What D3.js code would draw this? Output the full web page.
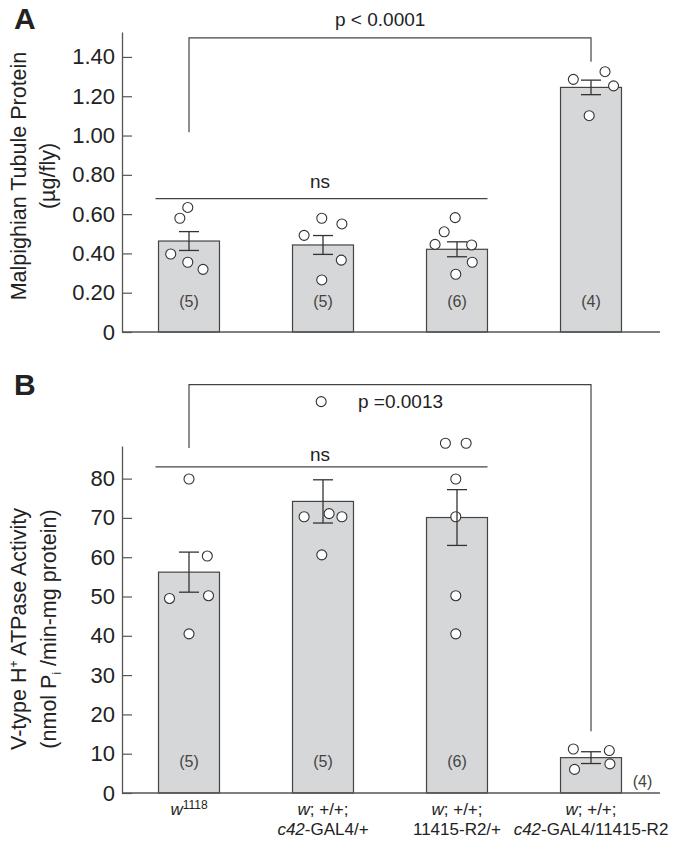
<!DOCTYPE html>
<html>
<head>
<meta charset="utf-8">
<script src="https://cdn.jsdelivr.net/npm/d3@7"></script>
<style>
  html, body { margin: 0; padding: 0; background: #fff; }
  svg { display: block; font-family: "Liberation Sans", Arial, Helvetica, sans-serif; }
</style>
</head>
<body>
<svg id="chart" width="680" height="850"></svg>
<script>
// ---------------- DATA ----------------
const groups = ["w1118", "c42/+", "R2/+", "c42/R2"];
const nCounts = [5, 5, 6, 4];

// Panel A: Malpighian tubule protein (µg/fly)
const proteinMean = [0.463, 0.443, 0.421, 1.245];
const proteinSem = [0.048, 0.048, 0.038, 0.037];
const proteinPoints = [
  [0.634, 0.579, 0.397, 0.355, 0.319],
  [0.492, 0.579, 0.550, 0.366, 0.265],
  [0.582, 0.510, 0.446, 0.443, 0.355, 0.294],
  [1.286, 1.325, 1.253, 1.101]
];
const proteinJitter = [
  [-0.02, -0.15, -0.30, -0.02, 0.23],
  [-0.31, -0.02, 0.31, 0.30, -0.02],
  [-0.03, -0.21, -0.36, 0.24, 0.25, -0.02],
  [-0.29, 0.23, 0.37, -0.03]
];
const proteinTicks = [0, 0.2, 0.4, 0.6, 0.8, 1.0, 1.2, 1.4];

// Panel B: V-type H+ ATPase activity
const atpaseMean = [56.2, 74.2, 70.1, 9.0];
const atpaseSem = [5.1, 5.5, 7.1, 1.5];
const atpasePoints = [
  [79.9, 60.3, 49.5, 50.2, 40.5],
  [99.6, 71.1, 70.3, 70.3, 60.6],
  [89.0, 89.0, 79.9, 70.3, 50.2, 40.5],
  [11.2, 10.8, 7.4, 6.0]
];
const atpaseJitter = [
  [0.00, 0.30, -0.32, 0.32, 0.00],
  [-0.03, 0.10, -0.31, 0.31, -0.02],
  [-0.19, 0.15, -0.02, -0.02, -0.02, -0.02],
  [-0.29, 0.30, 0.31, -0.27]
];
const atpaseTicks = [0, 10, 20, 30, 40, 50, 60, 70, 80];

// Annotation values
const protPText = "p < 0.0001";
const atpPText = "p =0.0013";

// ---------------- LAYOUT ----------------
const svg = d3.select("#chart");
const FONT_TICK = 22;
const axisColor = "#555";
const barFill = "#d6d7d9";
const barStroke = "#444";

const x = d3.scaleBand().domain(groups).range([122, 658]).paddingInner(0.545).paddingOuter(0.2725);
const bw = x.bandwidth();
const cx = g => x(g) + bw / 2;

const yA = d3.scaleLinear().domain([0, 1.527]).range([332, 32]);
const yB = d3.scaleLinear().domain([0, 88.3]).range([793, 446]);

function drawPanel(cfg) {
  const { y, ticks, fmt, mean, sem, points, jitter, nLabelY, nLabelSpecial } = cfg;
  const g = svg.append("g");

  // bars
  g.selectAll("rect.bar").data(groups).join("rect")
    .attr("x", d => x(d)).attr("width", bw)
    .attr("y", (d, i) => y(mean[i]))
    .attr("height", (d, i) => y(0) - y(mean[i]))
    .attr("fill", barFill).attr("stroke", barStroke).attr("stroke-width", 1.2);

  // points
  groups.forEach((grp, i) => {
    g.selectAll(null).data(points[i]).join("circle")
      .attr("cx", (v, j) => cx(grp) + jitter[i][j] * bw)
      .attr("cy", v => y(v))
      .attr("r", 5)
      .attr("fill", "#fff").attr("stroke", "#333").attr("stroke-width", 1.1);
  });

  // error bars
  groups.forEach((grp, i) => {
    const c = cx(grp), hi = y(mean[i] + sem[i]), lo = y(mean[i] - sem[i]);
    const e = g.append("g").attr("stroke", "#333").attr("stroke-width", 1.3);
    e.append("line").attr("x1", c).attr("x2", c).attr("y1", hi).attr("y2", lo);
    e.append("line").attr("x1", c - 10).attr("x2", c + 10).attr("y1", hi).attr("y2", hi);
    e.append("line").attr("x1", c - 10).attr("x2", c + 10).attr("y1", lo).attr("y2", lo);
  });

  // n labels
  groups.forEach((grp, i) => {
    const special = nLabelSpecial && i === 3;
    g.append("text")
      .attr("x", special ? x(grp) + bw + 21 : cx(grp))
      .attr("y", special ? nLabelSpecial : nLabelY)
      .attr("text-anchor", "middle")
      .attr("font-size", 16).attr("fill", "#444")
      .text(`(${nCounts[i]})`);
  });

  // y axis
  const ax = g.append("g").attr("transform", "translate(122,0)")
    .call(d3.axisLeft(y).tickValues(ticks).tickFormat(fmt)
      .tickSize(-10).tickSizeOuter(0).tickPadding(7));
  ax.select(".domain").attr("stroke", axisColor).attr("stroke-width", 1.3);
  ax.selectAll(".tick line").attr("stroke", axisColor).attr("stroke-width", 1.2);
  ax.selectAll(".tick text").attr("font-size", FONT_TICK).attr("fill", "#222")
    .attr("font-family", "'Liberation Sans', Arial, sans-serif");

  // x baseline
  g.append("line").attr("x1", 122).attr("x2", 660).attr("y1", y(0)).attr("y2", y(0))
    .attr("stroke", axisColor).attr("stroke-width", 1.3);
  return g;
}

function bracket(y, topV, leftV, rightV, i0, i1) {
  const x0 = cx(groups[i0]), x1 = cx(groups[i1]);
  svg.append("path")
    .attr("d", `M${x0},${y(leftV)}V${y(topV)}H${x1}V${y(rightV)}`)
    .attr("fill", "none").attr("stroke", "#444").attr("stroke-width", 1.2);
}
function nsLine(y, v, i0, i1, textY) {
  const x0 = x(groups[i0]) - 3, x1 = x(groups[i1]) + bw;
  svg.append("line").attr("x1", x0).attr("x2", x1).attr("y1", y(v)).attr("y2", y(v))
    .attr("stroke", "#444").attr("stroke-width", 1.2);
  svg.append("text").attr("x", cx(groups[1]) - 3).attr("y", textY)
    .attr("text-anchor", "middle").attr("font-size", 19).attr("fill", "#222").text("ns");
}

// ---------------- PANEL A ----------------
drawPanel({
  y: yA, ticks: proteinTicks, fmt: d => d === 0 ? "0" : d3.format(".2f")(d),
  mean: proteinMean, sem: proteinSem, points: proteinPoints, jitter: proteinJitter,
  nLabelY: 307
});
bracket(yA, 1.497, 1.017, 1.376, 0, 3);
svg.append("text").attr("x", 335).attr("y", 26).attr("font-size", 19).attr("fill", "#222").text(protPText);
nsLine(yA, 0.679, 0, 2, 188);

svg.append("text").attr("x", 14).attr("y", 29).attr("font-size", 30).attr("font-weight", "bold")
  .attr("fill", "#222").text("A");

const labA = svg.append("text").attr("transform", "translate(0,176) rotate(-90)")
  .attr("text-anchor", "middle").attr("font-size", 21.5).attr("fill", "#222");
labA.append("tspan").attr("x", 0).attr("y", 26).text("Malpighian Tubule Protein");
labA.append("tspan").attr("x", 0).attr("y", 55).text("(µg/fly)");

// ---------------- PANEL B ----------------
drawPanel({
  y: yB, ticks: atpaseTicks, fmt: d3.format("d"),
  mean: atpaseMean, sem: atpaseSem, points: atpasePoints, jitter: atpaseJitter,
  nLabelY: 767, nLabelSpecial: 787
});
bracket(yB, 103.9, 87.8, 15.7, 0, 3);
svg.append("text").attr("x", 358).attr("y", 408).attr("font-size", 19).attr("fill", "#222").text(atpPText);
nsLine(yB, 83.0, 0, 2, 461);

svg.append("text").attr("x", 14).attr("y", 395).attr("font-size", 30).attr("font-weight", "bold")
  .attr("fill", "#222").text("B");

const labB = svg.append("text").attr("transform", "translate(0,629) rotate(-90)")
  .attr("text-anchor", "middle").attr("font-size", 21.5).attr("fill", "#222");
const l1 = labB.append("tspan").attr("x", 0).attr("y", 26);
l1.append("tspan").text("V-type H");
l1.append("tspan").attr("font-size", 12).attr("dy", -8).text("+");
l1.append("tspan").attr("dy", 8).text(" ATPase Activity");
const l2 = labB.append("tspan").attr("x", 0).attr("y", 56);
l2.append("tspan").text("(nmol P");
l2.append("tspan").attr("font-size", 12).attr("dy", 5).text("i");
l2.append("tspan").attr("dy", -5).text(" /min-mg protein)");

// ---------------- X LABELS ----------------
const xl = svg.append("g").attr("font-size", 17).attr("fill", "#222").attr("text-anchor", "middle");
{
  const t = xl.append("text").attr("x", cx(groups[0])).attr("y", 815);
  t.append("tspan").attr("font-style", "italic").text("w");
  t.append("tspan").attr("font-size", 12).attr("dy", -6).text("1118");
}
const line2 = [null, ["c42", "-GAL4/+"], ["", "11415-R2/+"], ["c42", "-GAL4/11415-R2"]];
for (let i = 1; i < 4; i++) {
  const t1 = xl.append("text").attr("x", cx(groups[i])).attr("y", 815);
  t1.append("tspan").attr("font-style", "italic").text("w");
  t1.append("tspan").text("; +/+;");
  const t2 = xl.append("text").attr("x", cx(groups[i])).attr("y", 835);
  if (line2[i][0]) t2.append("tspan").attr("font-style", "italic").text(line2[i][0]);
  t2.append("tspan").text(line2[i][1]);
}
</script>
</body>
</html>
